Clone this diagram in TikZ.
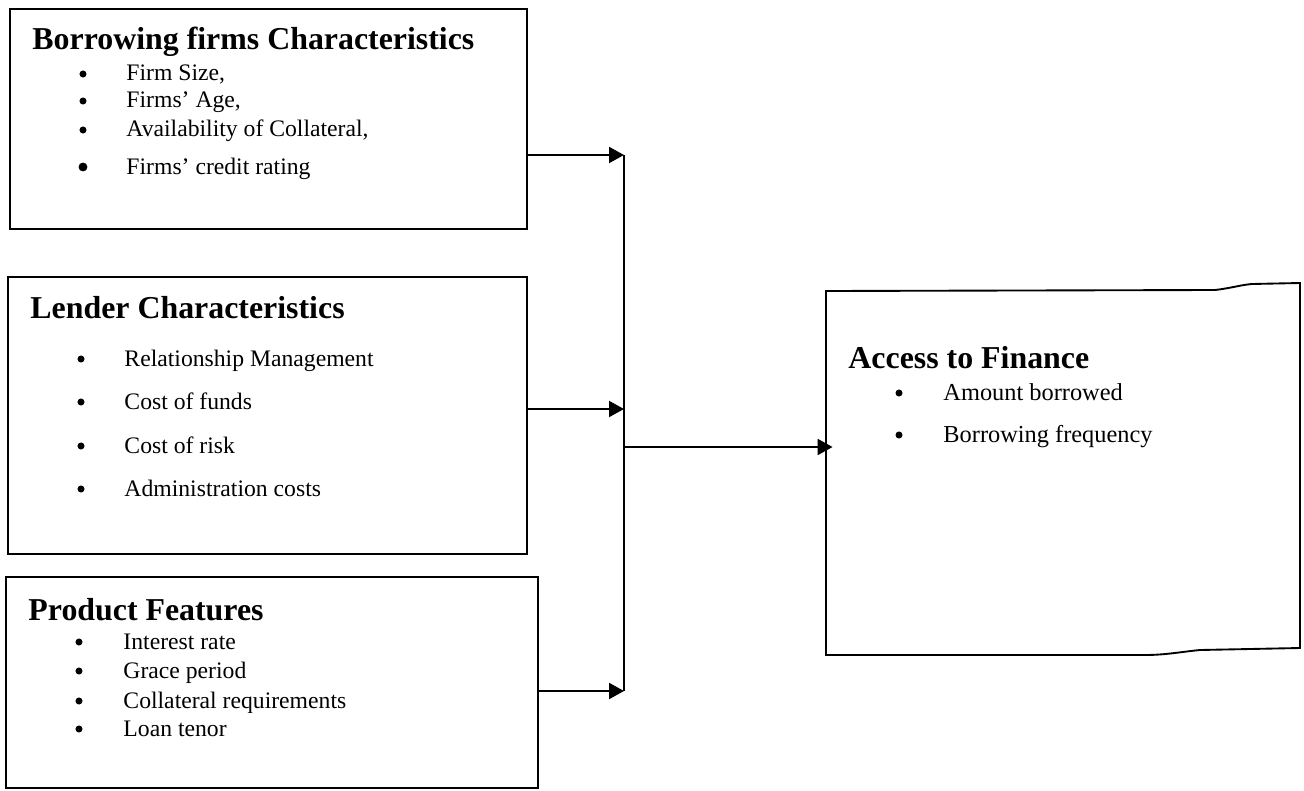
\documentclass[tikz,border=0pt]{standalone}
\usepackage{fontspec}
\setmainfont{Liberation Serif}
\usetikzlibrary{fit,arrows.meta}

\begin{document}
\begin{tikzpicture}[x=0.015cm,y=-0.015cm,
        box/.style={draw, line width=0.8pt, inner sep=0pt},
        head/.style={anchor=base west, inner sep=0pt, font=\fontsize{13.6}{16}\selectfont\bfseries},
        item/.style={anchor=base west, inner sep=0pt, font=\fontsize{10.1}{12}\selectfont},
        dot/.style={circle, fill, inner sep=0pt, minimum size=3pt},
        link/.style={line width=1pt, -{Triangle[length=6.4pt,width=6.8pt]}}]
        \useasboundingbox (0,0) rectangle (1304,790);

        % factor boxes
        \node[box, fit={(10,9) (527,229)}] (firms) {};
        \node[box, fit={(8,277) (527,554)}] (lender) {};
        \node[box, fit={(6,577) (538,788)}] (product) {};
        \node[fit={(826,289) (1300,655)}, inner sep=0pt] (access) {};
        \draw[line width=0.8pt] (826,291) -- (1215,290) .. controls (1232,288) and (1240,285) .. (1252,284)
                -- (1300,283) -- (1300,648) -- (1200,650) .. controls (1180,652) and (1165,655) .. (1145,655)
                -- (826,655) -- cycle;

        \node[head] (firmsT) at (32,50) {Borrowing firms Characteristics};
        \foreach \yy/\txt/\sz [count=\i] in {81/{Firm Size,}/3, 108/{Firms' Age,}/3, 137/{Availability of Collateral,}/3, 174/{Firms' credit rating}/3.8}
        {
        \node[dot, minimum size=\sz pt] (firmsB\i) at (83,\yy-7) {};
        \node[item] (firmsI\i) at (126,\yy) {\txt};
        }

        \node[head] (lenderT) at (30,318) {Lender Characteristics};
        \foreach \yy/\txt [count=\i] in {366/Relationship Management, 409/Cost of funds, 453/Cost of risk, 496/Administration costs}
        {
        \node[dot] (lenderB\i) at (81,\yy-7) {};
        \node[item] (lenderI\i) at (124,\yy) {\txt};
        }

        \node[head] (productT) at (28,620) {Product Features};
        \foreach \yy/\txt [count=\i] in {649/Interest rate, 678/Grace period, 708/Collateral requirements, 736/Loan tenor}
        {
        \node[dot] (productB\i) at (79,\yy-7) {};
        \node[item] (productI\i) at (123,\yy) {\txt};
        }

        \node[head] (accessT) at (848,368) {Access to Finance};
        \foreach \yy/\txt [count=\i] in {400/Amount borrowed, 442/Borrowing frequency}
        {
        \node[dot] (accessB\i) at (899,\yy-7) {};
        \node[item, font=\fontsize{10.4}{12}\selectfont] (accessI\i) at (943,\yy) {\txt};
        }

        % connectors
        \coordinate (bartop) at (624,155);
        \coordinate (barmid) at (624,409);
        \coordinate (barbot) at (624,691);
        \coordinate (barout) at (624,447);
        \draw[line width=1pt] (bartop) -- (barbot);
        \draw[link] (firms.east |- bartop) -- (bartop);
        \draw[link] (lender.east |- barmid) -- (barmid);
        \draw[link] (product.east |- barbot) -- (barbot);
        \draw[link, shorten >=-3pt] (barout) -- (access.west |- barout);
        \end{tikzpicture}
\end{document}
